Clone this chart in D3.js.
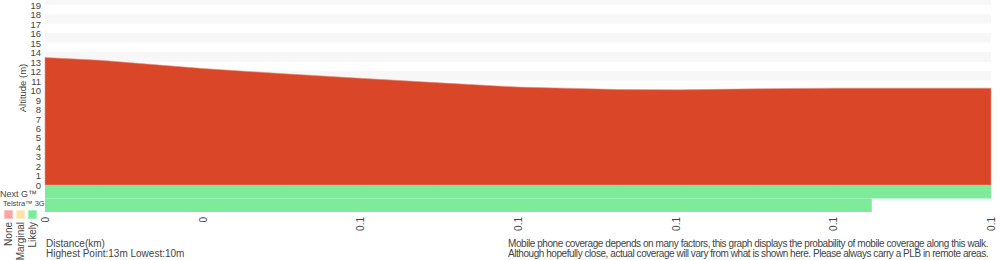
<!DOCTYPE html>
<html><head><meta charset="utf-8">
<script src="https://cdn.jsdelivr.net/npm/d3@7"></script>
<style>
body{margin:0;background:#fff;}
svg{display:block;font-family:"Liberation Sans",Arial,Helvetica,sans-serif;}
</style></head>
<body>
<svg id="c" width="1000" height="260"></svg>
<script>
// ---- data ----
const distances  = [0, 0.0087, 0.025, 0.0373, 0.05, 0.0626, 0.075, 0.0824, 0.0912, 0.1007, 0.1129, 0.125, 0.15];
const elevations = [13.44, 13.15, 12.28, 11.75, 11.25, 10.77, 10.32, 10.21, 10.06, 10.03, 10.14, 10.21, 10.21];
const yTicks = d3.range(0, 20);
const xTickValues = [0, 0.025, 0.05, 0.075, 0.1, 0.125, 0.15];
const xTickLabels = ["0", "0", "0.1", "0.1", "0.1", "0.1", "0.1"];
// coverage segments: [start km, end km, level] level: 0 none,1 marginal,2 likely
const nextGCoverage = [[0, 0.15, 2]];
const telstra3GCoverage = [[0, 0.1311, 2]];
const legendLabels = ["None", "Marginal", "Likely"];

// ---- layout ----
const svg = d3.select("#c");
const plotLeft = 45, plotRight = 991, plotTop = 0, plotBase = 185;
const x = d3.scaleLinear().domain([0, 0.15]).range([plotLeft, plotRight]);
const y = d3.scaleLinear().domain([0, 19.5]).range([plotBase, plotTop]);
const covColors = ["#ffa3a3", "#ffe2a6", "#7eeb9b"];
const covStroke = ["#ffc4c4", "#fff0cc", "#a8f3bc"];
const textCol = "#444";

// bands
const bands = d3.range(1, 20, 2);
svg.append("g").selectAll("rect").data(bands).join("rect")
  .attr("x", plotLeft).attr("width", plotRight - plotLeft)
  .attr("y", d => y(Math.min(d + 1, 19.5)))
  .attr("height", d => y(d) - y(Math.min(d + 1, 19.5)))
  .attr("fill", "#f7f7f7");

// area
const area = d3.area().x((d, i) => x(distances[i])).y0(y(0)).y1(d => y(d));
svg.append("path").datum(elevations).attr("d", area)
  .attr("fill", "#d94628").attr("stroke", "#e58d7c").attr("stroke-width", 0.6);

// coverage rows
const rowH = 13.5;
function row(data, r) {
  svg.append("g").selectAll("rect").data(data).join("rect")
    .attr("x", d => x(d[0])).attr("width", d => x(d[1]) - x(d[0]))
    .attr("y", plotBase + r * rowH).attr("height", rowH)
    .attr("fill", d => covColors[d[2]]);
}
row(nextGCoverage, 0);
row(telstra3GCoverage, 1);

// y axis labels
const yAxis = d3.axisLeft(y).tickValues(yTicks).tickSize(0).tickPadding(4);
const gy = svg.append("g").attr("transform", `translate(${plotLeft},0)`).call(yAxis);
gy.select(".domain").remove();
gy.selectAll("text").attr("fill", textCol).attr("font-size", 9.5)
  .attr("font-family", "Liberation Sans,Arial,sans-serif").attr("dy", "0.36em");

svg.append("text").attr("transform", `translate(26,88) rotate(-90)`)
  .attr("text-anchor", "middle").attr("font-size", 9.5).attr("fill", textCol).text("Altitude (m)");

// x axis labels
const xAxis = d3.axisBottom(x).tickValues(xTickValues).tickFormat((d, i) => xTickLabels[i]).tickSize(0);
const gx = svg.append("g").attr("transform", `translate(0,212)`).call(xAxis);
gx.select(".domain").remove();
gx.selectAll("text").attr("fill", textCol).attr("font-size", 10)
  .attr("font-family", "Liberation Sans,Arial,sans-serif")
  .attr("transform", "rotate(-90)").attr("text-anchor", "end")
  .attr("x", -5).attr("y", 0).attr("dy", "0.35em");

// legend
svg.append("text").attr("x", 0).attr("y", 197).attr("font-size", 9).attr("fill", textCol).text("Next G™");
svg.append("text").attr("x", 3).attr("y", 206).attr("font-size", 7.5).attr("fill", textCol).text("Telstra™ 3G");
const lg = svg.append("g").selectAll("g").data(legendLabels).join("g")
  .attr("transform", (d, i) => `translate(${4 + i * 12},210)`);
lg.append("rect").attr("x", 0.5).attr("y", 0.5).attr("width", 8).attr("height", 8)
  .attr("fill", (d, i) => covColors[i]).attr("stroke", (d, i) => covStroke[i]);
lg.append("text").attr("transform", "translate(4.5,12) rotate(-90)").attr("text-anchor", "end")
  .attr("dy", "0.35em").attr("font-size", 10).attr("fill", textCol).text(d => d);

// footer
svg.append("text").attr("x", 46).attr("y", 247).attr("font-size", 10).attr("fill", textCol).text("Distance(km)");
svg.append("text").attr("x", 46).attr("y", 257).attr("font-size", 10).attr("fill", textCol).text("Highest Point:13m Lowest:10m");
const notes = [
  "Mobile phone coverage depends on many factors, this graph displays the probability of mobile coverage along this walk.",
  "Although hopefully close, actual coverage will vary from what is shown here. Please always carry a PLB in remote areas."
];
notes.forEach((t, i) => {
  const el = svg.append("text").attr("x", 508).attr("y", 247 + i * 10).attr("font-size", 10).attr("fill", textCol).text(t);
  const w = el.node().getComputedTextLength();
  el.attr("letter-spacing", ((480 - w) / t.length).toFixed(3));
});
</script>
</body></html>
